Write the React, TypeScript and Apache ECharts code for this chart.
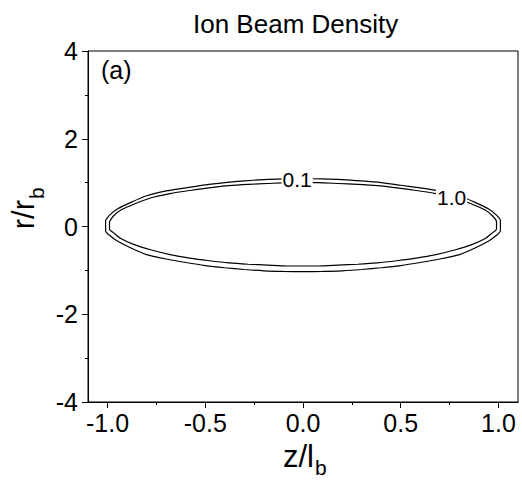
import React, { useEffect, useRef } from 'react';
import * as echarts from 'echarts';

const FONT = '"Liberation Sans", Arial, Helvetica, sans-serif';

// Axis ticks
const zTicks = [-1.0, -0.5, 0.0, 0.5, 1.0];
const zMinorTicks = [-0.75, -0.25, 0.25, 0.75];

// Contour level 0.1 (outer)
const outerZ = [-1.01, -0.99, -0.95, -0.88, -0.80, -0.70, -0.60, -0.50, -0.40, -0.30, -0.20, -0.10, 0.00, 0.10, 0.20, 0.30, 0.40, 0.50, 0.60, 0.70, 0.80, 0.88, 0.95, 0.99, 1.01,
  1.01, 0.99, 0.95, 0.88, 0.80, 0.70, 0.60, 0.50, 0.40, 0.30, 0.20, 0.10, 0.00, -0.10, -0.20, -0.30, -0.40, -0.50, -0.60, -0.70, -0.80, -0.88, -0.95, -0.99, -1.01, -1.01];
const outerR = [0.14, 0.26, 0.40, 0.55, 0.70, 0.81, 0.88, 0.95, 1.00, 1.04, 1.07, 1.085, 1.09, 1.085, 1.07, 1.04, 1.00, 0.94, 0.88, 0.81, 0.70, 0.55, 0.40, 0.26, 0.14,
  -0.10, -0.20, -0.33, -0.49, -0.64, -0.74, -0.82, -0.89, -0.94, -0.98, -1.01, -1.025, -1.03, -1.025, -1.01, -0.98, -0.94, -0.89, -0.82, -0.74, -0.64, -0.49, -0.33, -0.20, -0.10, 0.14];

// Contour level 1.0 (inner)
const innerZ = [-0.99, -0.97, -0.93, -0.86, -0.78, -0.68, -0.58, -0.48, -0.38, -0.28, -0.18, -0.08, 0.00, 0.08, 0.18, 0.28, 0.38, 0.48, 0.58, 0.68, 0.78, 0.86, 0.93, 0.97, 0.99,
  0.99, 0.97, 0.93, 0.86, 0.78, 0.68, 0.58, 0.48, 0.38, 0.28, 0.18, 0.08, 0.00, -0.08, -0.18, -0.28, -0.38, -0.48, -0.58, -0.68, -0.78, -0.86, -0.93, -0.97, -0.99, -0.99];
const innerR = [0.11, 0.24, 0.38, 0.52, 0.65, 0.75, 0.82, 0.88, 0.93, 0.96, 0.98, 1.00, 1.00, 1.00, 0.98, 0.96, 0.93, 0.88, 0.82, 0.75, 0.65, 0.52, 0.38, 0.24, 0.11,
  -0.06, -0.14, -0.28, -0.42, -0.53, -0.64, -0.72, -0.78, -0.83, -0.86, -0.88, -0.90, -0.90, -0.90, -0.88, -0.86, -0.83, -0.78, -0.72, -0.64, -0.53, -0.42, -0.28, -0.14, -0.06, 0.11];

// Contour labels
const labelText = ['0.1', '1.0'];
const labelZ = [-0.03, 0.76];
const labelR = [1.07, 0.67];

export default function App() {
  const ref = useRef<HTMLDivElement>(null);
  useEffect(() => {
    document.body.style.margin = '0';
    const chart = echarts.init(ref.current!, null, { renderer: 'svg' });
    const black = '#000';
    const staticGraphic: any[] = [
      { type: 'text', left: 101, top: 57, style: { text: '(a)', fontSize: 25, fill: black, fontFamily: FONT } },
      { type: 'text', x: 314, y: 456, style: { text: 'z/l', fontSize: 31, fill: black, fontFamily: FONT, align: 'right', verticalAlign: 'middle' } },
      { type: 'text', x: 315, y: 467, style: { text: 'b', fontSize: 21, fill: black, fontFamily: FONT, align: 'left', verticalAlign: 'middle' } },
      {
        type: 'group', x: 33, y: 218, rotation: Math.PI / 2,
        children: [
          { type: 'text', x: 18, y: -10, style: { text: 'r/r', fontSize: 31, fill: black, fontFamily: FONT, align: 'right', verticalAlign: 'middle' } },
          { type: 'text', x: 19, y: 3, style: { text: 'b', fontSize: 21, fill: black, fontFamily: FONT, align: 'left', verticalAlign: 'middle' } },
        ],
      },
    ];
    chart.setOption({
      animation: false,
      backgroundColor: '#fff',
      textStyle: { fontFamily: FONT },
      title: {
        text: 'Ion Beam Density',
        left: 188,
        top: 6,
        textStyle: { fontSize: 26, fontWeight: 'normal', color: black, fontFamily: FONT },
      },
      grid: {
        left: 88, right: 4, top: 51, bottom: 78,
        show: true, borderColor: black, borderWidth: 1, backgroundColor: 'transparent',
      },
      xAxis: [
        {
          type: 'value', min: -1.1, max: 1.1,
          axisLine: { onZero: false, lineStyle: { color: black, width: 1 } },
          axisTick: { show: true, length: 6, customValues: zTicks, lineStyle: { color: black } },
          axisLabel: {
            customValues: zTicks,
            formatter: (v: number) => v.toFixed(1),
            fontSize: 25, color: black, margin: 8, fontFamily: FONT,
          },
          splitLine: { show: false },
        },
        {
          type: 'value', min: -1.1, max: 1.1, position: 'bottom',
          axisLine: { show: false, onZero: false },
          axisTick: { show: true, length: 3, customValues: zMinorTicks, lineStyle: { color: black } },
          axisLabel: { show: false },
          splitLine: { show: false },
        },
      ],
      yAxis: {
        type: 'value', min: -4, max: 4, interval: 2,
        axisLine: { show: true, onZero: false, lineStyle: { color: black, width: 1 } },
        axisTick: { show: true, length: 6, lineStyle: { color: black } },
        minorTick: { show: true, splitNumber: 2, length: 3, lineStyle: { color: black } },
        axisLabel: { fontSize: 25, color: black, margin: 10, fontFamily: FONT },
        splitLine: { show: false },
        minorSplitLine: { show: false },
      },
      graphic: staticGraphic,
      series: [
        {
          type: 'line', name: '0.1', xAxisIndex: 0,
          data: outerZ.map((z, i) => [z, outerR[i]]),
          symbol: 'none', smooth: 0.2,
          lineStyle: { color: black, width: 1.2 },
          z: 2,
        },
        {
          type: 'line', name: '1.0', xAxisIndex: 0,
          data: innerZ.map((z, i) => [z, innerR[i]]),
          symbol: 'none', smooth: 0.2,
          lineStyle: { color: black, width: 1.2 },
          z: 2,
        },
      ],
    });
    // contour labels placed through the chart's own scales
    const labelGraphic = labelText.map((t, i) => {
      const p = chart.convertToPixel({ xAxisIndex: 0, yAxisIndex: 0 }, [labelZ[i], labelR[i]]) as number[];
      return {
        type: 'text', x: p[0], y: p[1], z: 100,
        style: {
          text: t, fontSize: 21, fill: black, fontFamily: FONT,
          align: 'center', verticalAlign: 'middle',
          backgroundColor: '#fff', padding: [0, 1],
        },
      };
    });
    chart.setOption({ graphic: [...staticGraphic, ...labelGraphic] });
    return () => chart.dispose();
  }, []);
  return <div ref={ref} style={{ width: 522, height: 480 }} />;
}
